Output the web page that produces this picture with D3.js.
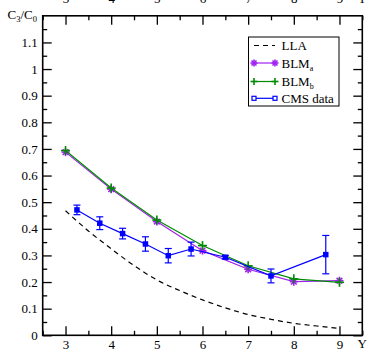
<!DOCTYPE html>
<html>
<head>
<meta charset="utf-8">
<script src="https://cdn.jsdelivr.net/npm/d3@7"></script>
<style>
  html, body { margin: 0; padding: 0; background: #fff; }
  svg { display: block; font-family: "Liberation Serif", "Times New Roman", serif; }
</style>
</head>
<body>
<svg id="chart" width="367" height="349"></svg>
<script>
// Rapidity points for the theory curves
const yTheory = [3, 4, 5, 6, 7, 8, 9];
const llaX = [3, 3.5, 4, 4.5, 5, 5.5, 6, 6.5, 7, 7.5, 8, 8.5, 9];
const llaVals = [0.468, 0.392, 0.325, 0.262, 0.208, 0.168, 0.133, 0.103, 0.078, 0.060, 0.045, 0.035, 0.026];
const blmA = [0.688, 0.549, 0.427, 0.318, 0.248, 0.2015, 0.205];
const blmB = [0.694, 0.553, 0.433, 0.337, 0.261, 0.212, 0.199];

// CMS measurement: bin centres, values and errors
const cmsX = [3.25, 3.75, 4.25, 4.75, 5.25, 5.75, 6.5, 7.5, 8.7];
const cmsVals = [0.471, 0.421, 0.382, 0.343, 0.299, 0.324, 0.293, 0.223, 0.303];
const cmsErr = [0.018, 0.024, 0.020, 0.027, 0.027, 0.026, 0.007, 0.026, 0.072];

// Axis ticks
const xMajor = [3, 4, 5, 6, 7, 8, 9];
const xMinor = [2.5, 3.5, 4.5, 5.5, 6.5, 7.5, 8.5, 9.5];
const yMajor = [0, 0.1, 0.2, 0.3, 0.4, 0.5, 0.6, 0.7, 0.8, 0.9, 1, 1.1];
const yMinor = d3.range(0.05, 1.2, 0.1);

const legendItems = ["LLA", "BLM", "BLM", "CMS data"];
const legendSubs = ["", "a", "b", ""];

const colA = "#a020f0", colB = "#008b00", colCMS = "#0000ff";

const svg = d3.select("#chart");
const L = 42.7, R = 362.3, T = 15.8, B = 335.3;
const x = d3.scaleLinear().domain([2.5, 9.5]).range([L, R]);
const y = d3.scaleLinear().domain([0, 1.2]).range([B, T]);

const fmt = d => (d === 0 ? "0" : d3.format("")(+d.toFixed(1)));

function styleAxis(g) {
  g.select(".domain").remove();
  g.selectAll("line").attr("stroke", "#000").attr("stroke-width", 1.3);
  g.selectAll("text").attr("font-size", 13).attr("fill", "#000")
    .attr("font-family", "Liberation Serif, serif");
}

// bottom axis: inward ticks
svg.append("g").attr("transform", `translate(0,${B})`)
  .call(d3.axisBottom(x).tickValues(xMajor).tickSizeInner(-9).tickSizeOuter(0).tickPadding(4).tickFormat(d3.format("d")))
  .call(styleAxis);
svg.append("g").attr("transform", `translate(0,${B})`)
  .call(d3.axisBottom(x).tickValues(xMinor).tickSizeInner(-4.5).tickSizeOuter(0).tickFormat(""))
  .call(styleAxis);
// top axis: mirrored ticks and labels
svg.append("g").attr("transform", `translate(0,${T})`)
  .call(d3.axisTop(x).tickValues(xMajor).tickSizeInner(-9).tickSizeOuter(0).tickPadding(12.5).tickFormat(d3.format("d")))
  .call(styleAxis);
svg.append("g").attr("transform", `translate(0,${T})`)
  .call(d3.axisTop(x).tickValues(xMinor).tickSizeInner(-4.5).tickSizeOuter(0).tickFormat(""))
  .call(styleAxis);
// left axis
svg.append("g").attr("transform", `translate(${L},0)`)
  .call(d3.axisLeft(y).tickValues(yMajor).tickSizeInner(-9).tickSizeOuter(0).tickPadding(5).tickFormat(fmt))
  .call(styleAxis);
svg.append("g").attr("transform", `translate(${L},0)`)
  .call(d3.axisLeft(y).tickValues(yMinor).tickSizeInner(-4.5).tickSizeOuter(0).tickFormat(""))
  .call(styleAxis);
// right axis (ticks only)
svg.append("g").attr("transform", `translate(${R},0)`)
  .call(d3.axisRight(y).tickValues(yMajor).tickSizeInner(-9).tickSizeOuter(0).tickFormat(""))
  .call(styleAxis);
svg.append("g").attr("transform", `translate(${R},0)`)
  .call(d3.axisRight(y).tickValues(yMinor).tickSizeInner(-4.5).tickSizeOuter(0).tickFormat(""))
  .call(styleAxis);

// frame
svg.append("rect").attr("x", L).attr("y", T).attr("width", R - L).attr("height", B - T)
  .attr("fill", "none").attr("stroke", "#000").attr("stroke-width", 1.6);

// axis titles
svg.append("text").attr("x", R).attr("y", 348).attr("text-anchor", "middle")
  .attr("font-size", 13).text("Y");
svg.append("text").attr("x", R).attr("y", 3).attr("text-anchor", "middle")
  .attr("font-size", 13).text("Y");
const yt = svg.append("text").attr("x", 7.5).attr("y", 18.5).attr("font-size", 13);
yt.append("tspan").text("C");
yt.append("tspan").attr("font-size", 8.5).attr("dy", 3).text("3");
yt.append("tspan").attr("dy", -3).text("/C");
yt.append("tspan").attr("font-size", 8.5).attr("dy", 3).text("0");

const line = d3.line().x(d => x(d[0])).y(d => y(d[1]));

// LLA curve
svg.append("path").datum(llaX.map((v, i) => [v, llaVals[i]]))
  .attr("d", line.curve(d3.curveMonotoneX)).attr("fill", "none")
  .attr("stroke", "#000").attr("stroke-width", 1.2).attr("stroke-dasharray", "5,4");
line.curve(d3.curveLinear);

function star(g, cx, cy, col, r) {
  for (let k = 0; k < 4; k++) {
    const a = k * Math.PI / 4;
    g.append("line").attr("x1", cx - r * Math.cos(a)).attr("y1", cy - r * Math.sin(a))
      .attr("x2", cx + r * Math.cos(a)).attr("y2", cy + r * Math.sin(a))
      .attr("stroke", col).attr("stroke-width", 1.6);
  }
}
function plus(g, cx, cy, col, r) {
  g.append("line").attr("x1", cx - r).attr("y1", cy).attr("x2", cx + r).attr("y2", cy)
    .attr("stroke", col).attr("stroke-width", 1.6);
  g.append("line").attr("x1", cx).attr("y1", cy - r).attr("x2", cx).attr("y2", cy + r)
    .attr("stroke", col).attr("stroke-width", 1.6);
}
function square(g, cx, cy, col, s) {
  g.append("rect").attr("x", cx - s / 2).attr("y", cy - s / 2).attr("width", s).attr("height", s)
    .attr("fill", col);
}

// BLM_a
const gA = svg.append("g");
gA.append("path").datum(yTheory.map((v, i) => [v, blmA[i]])).attr("d", line)
  .attr("fill", "none").attr("stroke", colA).attr("stroke-width", 1.2);
yTheory.forEach((v, i) => star(gA, x(v), y(blmA[i]), colA, 4));

// BLM_b
const gB = svg.append("g");
gB.append("path").datum(yTheory.map((v, i) => [v, blmB[i]])).attr("d", line)
  .attr("fill", "none").attr("stroke", colB).attr("stroke-width", 1.2);
yTheory.forEach((v, i) => plus(gB, x(v), y(blmB[i]), colB, 4.5));

// CMS data with error bars
const gC = svg.append("g");
gC.append("path").datum(cmsX.map((v, i) => [v, cmsVals[i]])).attr("d", line)
  .attr("fill", "none").attr("stroke", colCMS).attr("stroke-width", 1.2);
cmsX.forEach((v, i) => {
  const cx = x(v), y1 = y(cmsVals[i] + cmsErr[i]), y2 = y(cmsVals[i] - cmsErr[i]);
  gC.append("line").attr("x1", cx).attr("x2", cx).attr("y1", y1).attr("y2", y2)
    .attr("stroke", colCMS).attr("stroke-width", 1.2);
  [y1, y2].forEach(yy => gC.append("line").attr("x1", cx - 3.5).attr("x2", cx + 3.5)
    .attr("y1", yy).attr("y2", yy).attr("stroke", colCMS).attr("stroke-width", 1.2));
  square(gC, cx, y(cmsVals[i]), colCMS, 5.5);
});

// legend
const lg = svg.append("g");
lg.append("rect").attr("x", 248.5).attr("y", 37).attr("width", 90.5).attr("height", 69)
  .attr("fill", "#fff").attr("stroke", "#000").attr("stroke-width", 1);
const rowY = [45.5, 63, 81.5, 98.3];
const lx1 = 254, lx2 = 275;
lg.append("line").attr("x1", lx1).attr("x2", lx2).attr("y1", rowY[0]).attr("y2", rowY[0])
  .attr("stroke", "#000").attr("stroke-width", 1.2).attr("stroke-dasharray", "5,4");
lg.append("line").attr("x1", lx1).attr("x2", lx2).attr("y1", rowY[1]).attr("y2", rowY[1])
  .attr("stroke", colA).attr("stroke-width", 1.2);
star(lg, lx1, rowY[1], colA, 3.5); star(lg, lx2, rowY[1], colA, 3.5);
lg.append("line").attr("x1", lx1).attr("x2", lx2).attr("y1", rowY[2]).attr("y2", rowY[2])
  .attr("stroke", colB).attr("stroke-width", 1.2);
plus(lg, lx1, rowY[2], colB, 3.5); plus(lg, lx2, rowY[2], colB, 3.5);
lg.append("line").attr("x1", lx1).attr("x2", lx2).attr("y1", rowY[3]).attr("y2", rowY[3])
  .attr("stroke", colCMS).attr("stroke-width", 1.2);
[lx1, lx2].forEach(px => {
  lg.append("rect").attr("x", px - 2).attr("y", rowY[3] - 2).attr("width", 4).attr("height", 4)
    .attr("fill", "#fff").attr("stroke", colCMS).attr("stroke-width", 1.2);
});
legendItems.forEach((t, i) => {
  const tx = lg.append("text").attr("x", 281.5).attr("y", rowY[i] + 4.5).attr("font-size", 13).text(t);
  if (legendSubs[i]) tx.append("tspan").attr("font-size", 8).attr("dy", 3).text(legendSubs[i]);
});
</script>
</body>
</html>
